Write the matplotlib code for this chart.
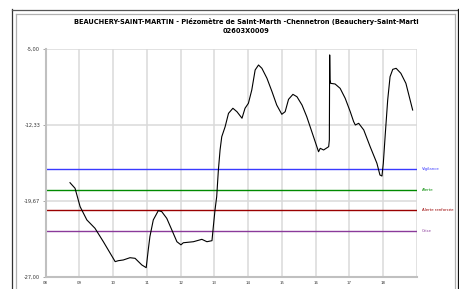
import matplotlib
matplotlib.use("Agg")
import matplotlib.pyplot as plt
from matplotlib.lines import Line2D
import numpy as np

title = "BEAUCHERY-SAINT-MARTIN - Piézomètre de Saint-Marth -Chennetron (Beauchery-Saint-Marti\n02603X0009"

years = [2008.72, 2008.87, 2009.02, 2009.22, 2009.46, 2009.71, 2010.06, 2010.15, 2010.30, 2010.50,
         2010.65, 2010.85, 2010.98, 2011.04, 2011.09, 2011.19, 2011.34, 2011.44, 2011.59, 2011.74,
         2011.89, 2012.01, 2012.08, 2012.38, 2012.63, 2012.78, 2012.93, 2012.97, 2013.02, 2013.07,
         2013.12, 2013.17, 2013.22, 2013.32, 2013.42, 2013.55, 2013.67, 2013.82, 2013.91, 2014.01,
         2014.11, 2014.21, 2014.31, 2014.41, 2014.56, 2014.71, 2014.85, 2015.00, 2015.10, 2015.20,
         2015.33, 2015.45, 2015.60, 2015.74, 2015.94, 2016.09, 2016.14, 2016.24, 2016.39, 2016.41,
         2016.42, 2016.43, 2016.45, 2016.58, 2016.73, 2016.88, 2017.03, 2017.13, 2017.18, 2017.28,
         2017.43, 2017.62, 2017.82, 2017.91, 2017.97, 2018.01, 2018.07, 2018.14, 2018.21, 2018.29,
         2018.39, 2018.53, 2018.68, 2018.88]
levels = [-17.91, -18.45, -20.22, -21.50, -22.30, -23.60, -25.52, -25.43, -25.36, -25.14,
          -25.20, -25.84, -26.10, -24.40, -23.10, -21.50, -20.60, -20.70, -21.35, -22.47,
          -23.60, -23.90, -23.70, -23.60, -23.37, -23.60, -23.50, -22.15, -20.54, -19.26,
          -16.69, -14.76, -13.48, -12.52, -11.23, -10.74, -11.07, -11.70, -10.74, -10.26,
          -8.98, -7.05, -6.57, -6.89, -7.85, -9.14, -10.43, -11.32, -11.07, -9.88,
          -9.40, -9.63, -10.43, -11.55, -13.48, -14.93, -14.60, -14.76, -14.44, -13.80,
          -5.60, -8.00, -8.34, -8.40, -8.82, -9.78, -11.07, -12.03, -12.35, -12.19,
          -12.83, -14.44, -16.04, -17.17, -17.27, -16.04, -13.15, -9.94, -7.70, -6.99,
          -6.89, -7.37, -8.34, -10.91]

threshold_names = ["Vigilance", "Alerte", "Alerte renforcée", "Crise"]
threshold_values = [-16.62, -18.64, -20.57, -22.57]
threshold_colors = ["#3a3aff", "#008a00", "#9a0000", "#8a3a9a"]

ytick_values = [-5.00, -12.33, -19.67, -27.00]
ytick_labels = ["-5,00", "-12,33", "-19,67", "-27,00"]
xtick_years = list(range(2008, 2019))
xtick_labels = ["08", "09", "10", "11", "12", "13", "14", "15", "16", "17", "18"]

fig = plt.figure(figsize=(4.6, 2.89), dpi=100)
fig.patch.set_facecolor("white")

# page frame
fig.add_artist(Line2D([12.5/460, 12.5/460], [0, 1 - 9/289], color="#333333", lw=0.9))
fig.add_artist(Line2D([12.5/460, 458/460], [1 - 9.5/289, 1 - 9.5/289], color="#555555", lw=0.9))
fig.add_artist(Line2D([458/460, 458/460], [0, 1 - 9/289], color="#111111", lw=0.9))
fig.add_artist(Line2D([16/460, 16/460], [0, 1 - 13.5/289], color="#b0b0b0", lw=0.9))
fig.add_artist(Line2D([16/460, 455/460], [1 - 13.5/289, 1 - 13.5/289], color="#b0b0b0", lw=0.9))
fig.add_artist(Line2D([455/460, 455/460], [0, 1 - 13.5/289], color="#b0b0b0", lw=0.9))

ax = fig.add_axes([45.7/460, 1 - 277/289, (416.7 - 45.7)/460, (277 - 48.7)/289])
ax.set_xlim(2008, 2019)
ax.set_ylim(-27, -5)

for y in ytick_values[:-1]:
    ax.axhline(y, color="#dadada", lw=1.1, zorder=0)
for xv in xtick_years[1:] + [2019]:
    ax.axvline(xv, color="#dadada", lw=1.1, zorder=0)

for name, val, col in zip(threshold_names, threshold_values, threshold_colors):
    ax.axhline(val, color=col, lw=1.0, zorder=2)
    ax.text(2019.15, val, name, color=col, fontsize=2.8, va="center", ha="left", clip_on=False)

ax.plot(years, levels, color="black", lw=0.8, zorder=3)

ax.set_yticks(ytick_values)
ax.set_yticklabels(ytick_labels, fontsize=3.6, color="#333333")
ax.set_xticks(xtick_years)
ax.set_xticklabels(xtick_labels, fontsize=2.8, color="#333333")
ax.tick_params(axis="y", length=2, width=0.6, color="#999999", pad=2)
ax.tick_params(axis="x", length=0, pad=3)
for s in ["top", "right"]:
    ax.spines[s].set_visible(False)
for s in ["left", "bottom"]:
    ax.spines[s].set_color("#c0c0c0")
    ax.spines[s].set_linewidth(1.5)

fig.text(246/460, 1 - 26/289, title, ha="center", va="center", fontsize=4.8,
         fontweight="bold", linespacing=1.7, family=["Liberation Sans Narrow", "DejaVu Sans"])

fig.savefig("out.png", dpi=100)
